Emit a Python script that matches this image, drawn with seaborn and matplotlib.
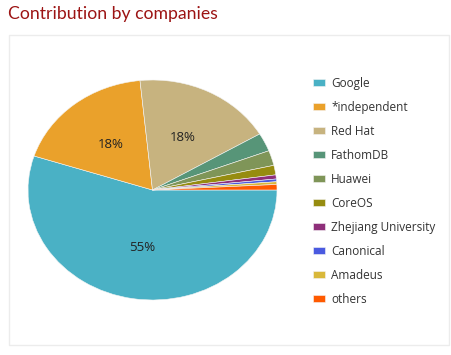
import numpy as np
import matplotlib
matplotlib.use('Agg')
import matplotlib.pyplot as plt
from matplotlib.patches import Rectangle
import seaborn as sns

companies = ['Google', '*independent', 'Red Hat', 'FathomDB', 'Huawei',
             'CoreOS', 'Zhejiang University', 'Canonical', 'Amadeus', 'others']
share = [55.0, 18.4, 18.1, 2.7, 2.2, 1.4, 0.6, 0.4, 0.4, 0.8]
colors = ['#4ab1c5', '#eaa12b', '#c7b37f', '#579578', '#7f9558',
          '#968c10', '#8e2f7a', '#4a5ae0', '#d9b83a', '#ff5a00']

sns.set_style('white')
plt.rcParams['font.family'] = ['Open Sans', 'DejaVu Sans']

fig = plt.figure(figsize=(4.51, 3.55), dpi=100)

# light panel border
fig.patches.append(Rectangle((9 / 451, 10 / 355), 440 / 451, 310 / 355,
                             transform=fig.transFigure, fill=False,
                             edgecolor='#ececec', linewidth=1))

fig.text(8 / 451, 1 - 14 / 355, 'Contribution by companies', color='#9c1414',
         fontsize=12.7, va='center', ha='left', family=['Lato', 'DejaVu Sans'])

ax = fig.add_axes([28 / 451, 55 / 355, 249 / 451, 220 / 355])

def pct(p):
    return '%d%%' % round(p) if p >= 5 else ''

wedges, texts, autotexts = ax.pie(
    share, colors=sns.color_palette(colors), startangle=0, counterclock=False,
    autopct=pct, pctdistance=0.53, radius=1,
    wedgeprops=dict(linewidth=0.4, edgecolor='#f4f4f4'),
    textprops=dict(fontsize=9.5, color='#222222'))
ax.set_aspect('auto')
ax.set_xlim(-1, 1)
ax.set_ylim(-1, 1)

leg = fig.legend(wedges, companies, loc='upper left',
                 bbox_to_anchor=(308 / 451, 1 - 72 / 355), frameon=False,
                 fontsize=8.5, handlelength=1.05, handleheight=0.6,
                 handletextpad=0.5, labelspacing=0.93, borderaxespad=0)
for t in leg.get_texts():
    t.set_color('#333333')

plt.savefig('out.png', dpi=100)
